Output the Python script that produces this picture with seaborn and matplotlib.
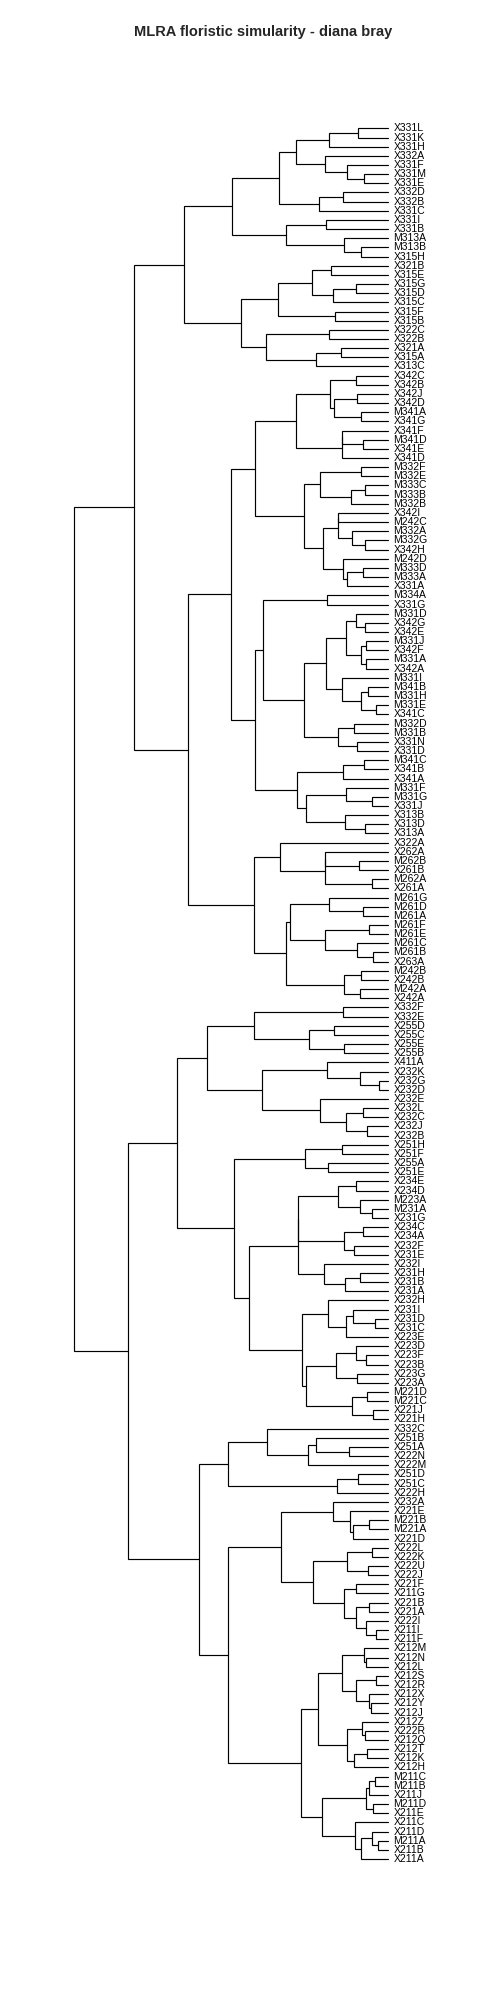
import matplotlib
matplotlib.use("Agg")
import matplotlib.pyplot as plt
import seaborn as sns

# leaf labels, top to bottom as shown on the plot
leaves_top = [
    "X331L", "X331K", "X331H", "X332A", "X331F", "X331M", "X331E", "X332D", "X332B", "X331C",
    "X331I", "X331B", "M313A", "M313B", "X315H", "X321B", "X315E", "X315G", "X315D", "X315C",
    "X315F", "X315B", "X322C", "X322B", "X321A", "X315A", "X313C", "X342C", "X342B", "X342J",
    "X342D", "M341A", "X341G", "X341F", "M341D", "X341E", "X341D", "M332F", "M332E", "M333C",
    "M333B", "M332B", "X342I", "M242C", "M332A", "M332G", "X342H", "M242D", "M333D", "M333A",
    "X331A", "M334A", "X331G", "M331D", "X342G", "X342E", "M331J", "X342F", "M331A", "X342A",
    "M331I", "M341B", "M331H", "M331E", "X341C", "M332D", "M331B", "X331N", "X331D", "M341C",
    "X341B", "X341A", "M331F", "M331G", "X331J", "X313B", "X313D", "X313A", "X322A", "X262A",
    "M262B", "X261B", "M262A", "X261A", "M261G", "M261D", "M261A", "M261F", "M261E", "M261C",
    "M261B", "X263A", "M242B", "X242B", "M242A", "X242A",
]
leaves_bottom = [
    "X332F", "X332E", "X255D", "X255C", "X255E", "X255B", "X411A", "X232K", "X232G", "X232D",
    "X232E", "X232L", "X232C", "X232J", "X232B", "X251H", "X251F", "X255A", "X251E", "X234E",
    "X234D", "M223A", "M231A", "X231G", "X234C", "X234A", "X232F", "X231E", "X232I", "X231H",
    "X231B", "X231A", "X232H", "X231I", "X231D", "X231C", "X223E", "X223D", "X223F", "X223B",
    "X223G", "X223A", "M221D", "M221C", "X221J", "X221H", "X332C", "X251B", "X251A", "X222N",
    "X222M", "X251D", "X251C", "X222H", "X232A", "X221E", "M221B", "M221A", "X221D", "X222L",
    "X222K", "X222U", "X222J", "X221F", "X211G", "X221B", "X221A", "X222I", "X211I", "X211F",
    "X212M", "X212N", "X212L", "X212S", "X212R", "X212X", "X212Y", "X212J", "X212Z", "X222R",
    "X212Q", "X212T", "X212K", "X212H", "M211C", "M211B", "X211J", "M211D", "X211E", "X211C",
    "X211D", "M211A", "X211B", "X211A",
]
leaves = leaves_top + leaves_bottom

# merges of the upper cluster: (node, left, right, height)
merges_top = [
    ("a1", "X331L", "X331K", 0.090), ("a2", "a1", "X331H", 0.177),
    ("a3", "X331M", "X331E", 0.072), ("a4", "X331F", "a3", 0.125),
    ("a5", "X332A", "a4", 0.189), ("a6", "a2", "a5", 0.276),
    ("a7", "X332D", "X332B", 0.135), ("a8", "a7", "X331C", 0.207),
    ("a9", "a6", "a8", 0.327), ("b1", "X331I", "X331B", 0.186),
    ("b2", "M313B", "X315H", 0.081), ("b3", "M313A", "b2", 0.132),
    ("b4", "b1", "b3", 0.306), ("b5", "a9", "b4", 0.469),
    ("c1", "X321B", "X315E", 0.173), ("c2", "X315G", "X315D", 0.098),
    ("c3", "c2", "X315C", 0.165), ("c4", "c1", "c3", 0.228),
    ("c5", "X315F", "X315B", 0.161), ("c6", "c4", "c5", 0.330),
    ("c7", "X322C", "X322B", 0.177), ("c8", "X321A", "X315A", 0.143),
    ("c9", "c8", "X313C", 0.216), ("c10", "c7", "c9", 0.368),
    ("c11", "c6", "c10", 0.441), ("c12", "b5", "c11", 0.612),
    ("d1", "X342C", "X342B", 0.098), ("d2", "X342J", "X342D", 0.093),
    ("d3", "M341A", "X341G", 0.081), ("d4", "d2", "d3", 0.162),
    ("d5", "d1", "d4", 0.175), ("d6", "M341D", "X341E", 0.077),
    ("d7", "X341F", "d6", 0.140), ("d8", "d7", "X341D", 0.140),
    ("d9", "d5", "d8", 0.276), ("e1", "M332F", "M332E", 0.083),
    ("e2", "M333C", "M333B", 0.069), ("e3", "e2", "M332B", 0.113),
    ("e4", "e1", "e3", 0.205), ("f1", "M332G", "X342H", 0.069),
    ("f2", "M332A", "f1", 0.110), ("f3", "X342I", "M242C", 0.150),
    ("f4", "f3", "f2", 0.150), ("g1", "M333D", "M333A", 0.075),
    ("g2", "g1", "X331A", 0.123), ("g3", "M242D", "g2", 0.135),
    ("g4", "f4", "g3", 0.195), ("g5", "e4", "g4", 0.252),
    ("g6", "d9", "g5", 0.400), ("h1", "M334A", "X331G", 0.185),
    ("h2", "X342G", "X342E", 0.069), ("h3", "M331D", "h2", 0.096),
    ("h4", "M331J", "X342F", 0.066), ("h5", "M331A", "X342A", 0.066),
    ("h6", "h4", "h5", 0.083), ("h7", "h3", "h6", 0.126),
    ("h8", "M341B", "M331H", 0.060), ("h9", "M331E", "X341C", 0.036),
    ("h10", "h8", "h9", 0.081), ("h11", "M331I", "h10", 0.138),
    ("h12", "h7", "h11", 0.186), ("h13", "M332D", "M331B", 0.102),
    ("h14", "X331N", "X331D", 0.093), ("h15", "h13", "h14", 0.150),
    ("h16", "h12", "h15", 0.252), ("h17", "h1", "h16", 0.376),
    ("i1", "M341C", "X341B", 0.072), ("i2", "i1", "X341A", 0.135),
    ("i3", "M331G", "X331J", 0.048), ("i4", "M331F", "i3", 0.126),
    ("i5", "X313D", "X313A", 0.069), ("i6", "X313B", "i5", 0.129),
    ("i7", "i4", "i6", 0.246), ("i8", "i2", "i7", 0.273),
    ("h18", "h17", "i8", 0.400), ("g7", "g6", "h18", 0.472),
    ("j1", "M262B", "X261B", 0.087), ("j2", "M262A", "X261A", 0.048),
    ("j3", "X262A", "j1", 0.189), ("j4", "j3", "j2", 0.189),
    ("j5", "X322A", "j4", 0.324), ("k1", "M261D", "M261A", 0.075),
    ("k2", "M261G", "k1", 0.179), ("k3", "M261F", "M261E", 0.057),
    ("k4", "M261B", "X263A", 0.045), ("k5", "M261C", "k4", 0.093),
    ("k6", "k3", "k5", 0.189), ("k7", "k2", "k6", 0.294),
    ("k8", "M242B", "X242B", 0.081), ("k9", "M242A", "X242A", 0.084),
    ("k10", "k8", "k9", 0.132), ("k11", "k7", "k10", 0.306),
    ("k12", "j5", "k11", 0.404), ("D", "g7", "k12", 0.600),
    ("TOP", "c12", "D", 0.763),
]

# merges of the lower cluster
merges_bottom = [
    ("l1", "X332F", "X332E", 0.135), ("l2", "X255D", "X255C", 0.162),
    ("l3", "X255E", "X255B", 0.132), ("l4", "l2", "l3", 0.237),
    ("l5", "l1", "l4", 0.404), ("m1", "X232G", "X232D", 0.027),
    ("m2", "X232K", "m1", 0.084), ("m3", "X411A", "m2", 0.185),
    ("m4", "X232L", "X232C", 0.075), ("m5", "X232J", "X232B", 0.063),
    ("m6", "m4", "m5", 0.126), ("m7", "X232E", "m6", 0.204),
    ("m8", "m3", "m7", 0.378), ("m9", "l5", "m8", 0.543),
    ("o1", "X251H", "X251F", 0.140), ("o2", "X255A", "X251E", 0.180),
    ("o3", "o1", "o2", 0.251), ("o4", "X234E", "X234D", 0.098),
    ("o5", "M231A", "X231G", 0.048), ("o6", "M223A", "o5", 0.084),
    ("o7", "o4", "o6", 0.150), ("o8", "X234C", "X234A", 0.075),
    ("o9", "X232F", "X231E", 0.102), ("o10", "o8", "o9", 0.132),
    ("o11", "o7", "o10", 0.270), ("q1", "X231H", "X231B", 0.084),
    ("q2", "q1", "X231A", 0.129), ("q3", "X232I", "q2", 0.192),
    ("o12", "o11", "q3", 0.270), ("s1", "X231D", "X231C", 0.039),
    ("s2", "X231I", "s1", 0.105), ("s3", "s2", "X223E", 0.126),
    ("s4", "X232H", "s3", 0.180), ("s5", "X223F", "X223B", 0.066),
    ("s6", "X223D", "s5", 0.096), ("s7", "X223G", "X223A", 0.093),
    ("s8", "s6", "s7", 0.156), ("t1", "M221D", "M221C", 0.063),
    ("t2", "X221J", "X221H", 0.045), ("t3", "t1", "t2", 0.108),
    ("s9", "s8", "t3", 0.246), ("s10", "s4", "s9", 0.258),
    ("r1", "o12", "s10", 0.417), ("r2", "o3", "r1", 0.462),
    ("n1", "m9", "r2", 0.633), ("u1", "X251A", "X222N", 0.117),
    ("u2", "X251B", "u1", 0.216), ("u3", "u2", "X222M", 0.240),
    ("u4", "X332C", "u3", 0.365), ("u5", "X251D", "X251C", 0.090),
    ("u6", "u5", "X222H", 0.153), ("u7", "u4", "u6", 0.480),
    ("v1", "M221B", "M221A", 0.057), ("v2", "v1", "X221D", 0.105),
    ("v3", "X221E", "v2", 0.114), ("v4", "X232A", "v3", 0.167),
    ("w1", "X222L", "X222K", 0.048), ("w2", "X222U", "X222J", 0.060),
    ("w3", "w1", "w2", 0.123), ("w4", "X221F", "X211G", 0.096),
    ("w5", "X221B", "X221A", 0.057), ("w6", "X211I", "X211F", 0.036),
    ("w7", "X222I", "w6", 0.066), ("w8", "w5", "w7", 0.096),
    ("w9", "w4", "w8", 0.132), ("w10", "w3", "w9", 0.225),
    ("w11", "v4", "w10", 0.321), ("x1", "X212N", "X212L", 0.066),
    ("x2", "X212M", "x1", 0.072), ("x3", "X212S", "X212R", 0.036),
    ("x4", "X212Y", "X212J", 0.051), ("x5", "X212X", "x4", 0.057),
    ("x6", "x3", "x5", 0.096), ("x7", "x2", "x6", 0.138),
    ("x8", "X222R", "X212Q", 0.069), ("x9", "X212Z", "x8", 0.078),
    ("x10", "X212T", "X212K", 0.063), ("x11", "x10", "X212H", 0.102),
    ("x12", "x9", "x11", 0.123), ("x13", "x7", "x12", 0.210),
    ("z2", "M211C", "M211B", 0.039), ("z3", "z2", "X211J", 0.057),
    ("z4", "M211D", "X211E", 0.045), ("z5", "z3", "z4", 0.066),
    ("z6", "M211A", "X211B", 0.030), ("z7", "X211D", "z6", 0.048),
    ("z8", "z7", "X211A", 0.081), ("z9", "X211C", "z8", 0.099),
    ("z10", "z5", "z9", 0.198), ("xb", "x13", "z10", 0.261),
    ("y1", "w11", "xb", 0.480), ("z1", "u7", "y1", 0.567),
    ("BOT", "n1", "z1", 0.782),
]

root_merge = [("ROOT", "TOP", "BOT", 0.942)]

merges = merges_top + merges_bottom + root_merge

title = "MLRA floristic simularity - diana bray"


# ================================
# draw the dendrogram
# ================================
sns.set_style("white")
plt.rcParams["font.family"] = ["Liberation Sans", "DejaVu Sans"]

fig = plt.figure(figsize=(5, 20), dpi=100)
ax = fig.add_axes([0.11, 0.0682, 0.6667, 0.8699])

# position of each leaf / node: (height, y)
pos = {name: (0.0, i + 1) for i, name in enumerate(leaves)}

for node, left, right, h in merges:
    hl, yl = pos[left]
    hr, yr = pos[right]
    ax.plot([hl, h, h, hr], [yl, yl, yr, yr], color="black", lw=0.85,
            solid_joinstyle="miter", clip_on=False)
    pos[node] = (h, (yl + yr) / 2)

for i, name in enumerate(leaves):
    ax.annotate(name, (0, i + 1), xytext=(3.6, 0), textcoords="offset points",
                va="center", ha="left", fontsize=7.5, color="black")

ax.set_xlim(1.0, 0.0)
ax.set_ylim(len(leaves) + 0.5, 0.5)
ax.axis("off")

fig.text(0.527, 1 - 31.7 / 2000, title, ha="center", va="center",
         fontsize=10.5, fontweight="bold")

fig.savefig("out.png", dpi=100, facecolor="white")
